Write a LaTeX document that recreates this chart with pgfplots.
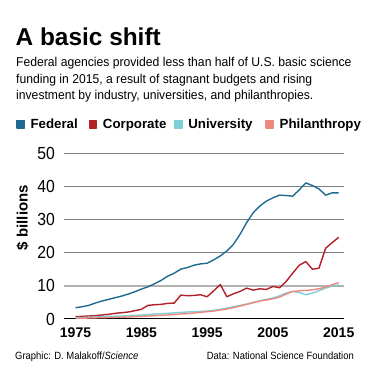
\documentclass[border=0pt]{standalone}
\usepackage{fontspec}
\setmainfont{Liberation Sans}
\newfontfamily\condfont[FakeStretch=0.95]{Liberation Sans}
\newfontfamily\ccondfont[FakeStretch=0.9]{Liberation Sans}
\usepackage{pgfplots}
\pgfplotsset{compat=1.18}
\usepackage{pgfplotstable}

\definecolor{fed}{HTML}{1F6A91}
\definecolor{corp}{HTML}{B22028}
\definecolor{univ}{HTML}{7DCFD5}
\definecolor{phil}{HTML}{EC8A80}

\pgfplotstableread{
year fed corp univ phil
1975 3.4 0.7 0.4 0.2
1976 3.7 0.8 0.45 0.25
1977 4.1 0.9 0.5 0.3
1978 4.8 1.0 0.6 0.35
1979 5.4 1.2 0.7 0.4
1980 5.9 1.4 0.8 0.45
1981 6.4 1.7 0.85 0.5
1982 6.9 1.9 0.9 0.55
1983 7.5 2.1 1.0 0.6
1984 8.2 2.5 1.1 0.7
1985 9.0 2.9 1.2 0.8
1986 9.7 4.1 1.35 0.9
1987 10.6 4.3 1.5 1.0
1988 11.6 4.4 1.6 1.1
1989 12.9 4.7 1.7 1.2
1990 13.8 4.8 1.85 1.35
1991 15.0 7.2 2.0 1.5
1992 15.5 7.0 2.1 1.6
1993 16.2 7.1 2.2 1.8
1994 16.6 7.3 2.3 2.0
1995 16.8 6.7 2.4 2.2
1996 17.8 8.5 2.6 2.4
1997 19.0 10.4 2.9 2.7
1998 20.5 6.7 3.3 3.0
1999 22.5 7.6 3.7 3.4
2000 25.5 8.3 4.1 3.9
2001 29.0 9.3 4.5 4.4
2002 32.0 8.7 5.0 4.9
2003 34.0 9.1 5.5 5.4
2004 35.5 8.9 5.9 5.7
2005 36.5 9.8 6.3 6.1
2006 37.3 9.4 7.0 6.6
2007 37.2 11.3 7.8 7.5
2008 37.0 13.8 8.3 8.3
2009 38.9 16.2 8.0 8.5
2010 41.0 17.3 7.3 8.6
2011 40.2 15.0 7.8 8.8
2012 39.2 15.3 8.5 9.1
2013 37.3 21.3 9.3 9.6
2014 38.0 23.0 9.9 10.3
2015 38.0 24.6 10.3 11.0
}\datatable

\begin{document}
\begin{tikzpicture}
\path[use as bounding box] (0pt,0pt) rectangle (368pt,379pt);
\node[anchor=base west, inner sep=0pt, font=\fontsize{24.4}{26}\selectfont\bfseries] at (15.5pt,333.5pt) {A basic shift};
\node[anchor=base west, inner sep=0pt, font=\condfont\fontsize{12.8}{16}\selectfont] at (16pt,312pt) {Federal agencies provided less than half of U.S. basic science};
\node[anchor=base west, inner sep=0pt, font=\condfont\fontsize{12.8}{16}\selectfont] at (16pt,295.5pt) {funding in 2015, a result of stagnant budgets and rising};
\node[anchor=base west, inner sep=0pt, font=\condfont\fontsize{12.8}{16}\selectfont] at (16pt,279pt) {investment by industry, universities, and philanthropies.};

\begin{axis}[
  at={(64pt,60pt)}, anchor=south west,
  scale only axis, width=280pt, height=166pt,
  xmin=1973.25, xmax=2015.8, ymin=0, ymax=50,
  axis line style={draw=none},
  major tick length=0pt,
  xtick={1975,1985,1995,2005,2015},
  ytick={20,30,40,50},
  ymajorgrids,
  major grid style={draw=black!50, line width=0.9pt},
  extra y ticks={0,10},
  extra y tick style={grid=none},
  /pgf/number format/assume math mode=true,
  /pgf/number format/set thousands separator={},
  xticklabel style={font=\bfseries\fontsize{14}{14}\selectfont, inner sep=0pt, anchor=north, yshift=-9pt},
  yticklabel style={font=\ccondfont\fontsize{17.5}{17.5}\selectfont, inner sep=0pt, anchor=east, xshift=-9pt},
  ylabel={\$ billions},
  ylabel style={font=\bfseries\fontsize{15}{15}\selectfont, at={(axis description cs:-0.148,0.611)}, anchor=center},
  legend columns=4,
  legend style={draw=none, fill=none, inner sep=0pt, outer sep=0pt, at={(axis description cs:-0.171,1.173)}, anchor=west,
    font=\bfseries\fontsize{13.3}{14}\selectfont,
    /tikz/every odd column/.append style={column sep=5.5pt},
    /tikz/every even column/.append style={column sep=0pt},
    nodes={inner sep=0pt}},
  legend image code/.code={\fill[#1] (0pt,-3.75pt) rectangle (7.5pt,3.75pt);},
  every axis plot/.append style={line width=1.4pt, line join=round},
]
\draw[black!30, line width=2pt] (axis cs:1973.25,10) -- (axis cs:2015.8,10);
\draw[black, line width=2pt] (axis cs:1973.25,0) -- (axis cs:2015.8,0);
\addplot[color=fed, no marks] table[x=year, y=fed] {\datatable};
\addlegendentry{\makebox[58pt][l]{Federal}}
\addplot[color=corp, no marks] table[x=year, y=corp] {\datatable};
\addlegendentry{\makebox[71pt][l]{Corporate}}
\addplot[color=univ, no marks] table[x=year, y=univ] {\datatable};
\addlegendentry{\makebox[77pt][l]{University}}
\addplot[color=phil, no marks] table[x=year, y=phil] {\datatable};
\addlegendentry{Philanthropy}
\end{axis}

\node[anchor=base west, inner sep=0pt, font=\ccondfont\fontsize{10.5}{12}\selectfont] at (15pt,19pt) {Graphic: D. Malakoff/\textit{Science}};
\node[anchor=base east, inner sep=0pt, font=\ccondfont\fontsize{10.5}{12}\selectfont] at (354pt,19pt) {Data: National Science Foundation};
\end{tikzpicture}
\end{document}
